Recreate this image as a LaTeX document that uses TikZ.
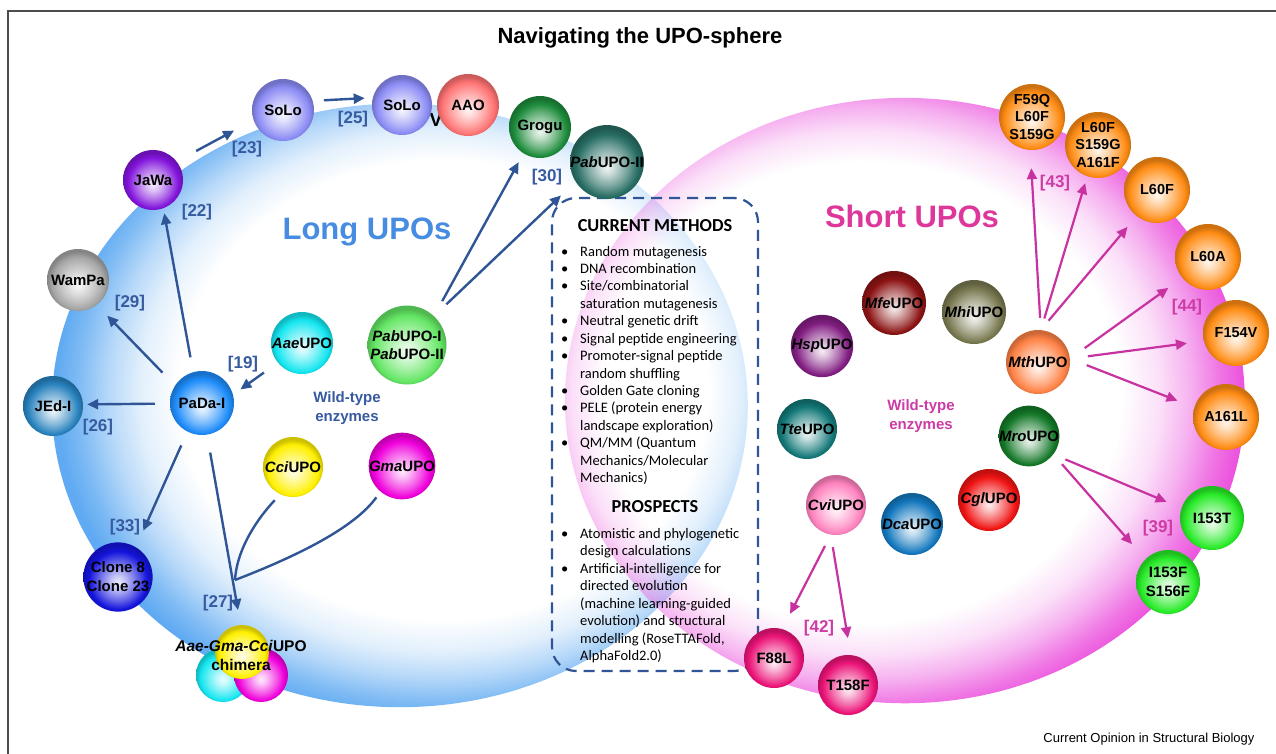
\documentclass[tikz,border=0pt]{standalone}
\usepackage{fontspec}
\setmainfont{Liberation Sans}
\newfontfamily\calfont{Carlito}
\usetikzlibrary{arrows.meta,fadings}

\definecolor{arrB}{RGB}{47,85,151}
\definecolor{arrP}{RGB}{200,50,160}
\definecolor{refB}{RGB}{55,90,160}
\definecolor{refP}{RGB}{205,60,165}
\definecolor{rimBlue}{RGB}{95,170,242}
\definecolor{rimPink}{RGB}{236,85,222}
\definecolor{longB}{RGB}{70,140,225}
\definecolor{shortP}{RGB}{222,55,155}
\definecolor{cLav}{RGB}{140,140,245}
\definecolor{cAAO}{RGB}{255,115,115}
\definecolor{cGrogu}{RGB}{30,140,60}
\definecolor{cPabII}{RGB}{40,110,100}
\definecolor{cJaWa}{RGB}{130,20,220}
\definecolor{cWamPa}{RGB}{165,165,165}
\definecolor{cAae}{RGB}{20,230,240}
\definecolor{cPabI}{RGB}{100,230,100}
\definecolor{cPaDa}{RGB}{30,140,250}
\definecolor{cJEd}{RGB}{40,130,190}
\definecolor{cCci}{RGB}{255,240,0}
\definecolor{cGma}{RGB}{240,0,220}
\definecolor{cClone}{RGB}{20,20,220}
\definecolor{cOrange}{RGB}{255,140,20}
\definecolor{cMth}{RGB}{255,130,70}
\definecolor{cMfe}{RGB}{140,20,20}
\definecolor{cMhi}{RGB}{120,120,80}
\definecolor{cHsp}{RGB}{130,30,130}
\definecolor{cTte}{RGB}{20,120,120}
\definecolor{cCvi}{RGB}{255,130,190}
\definecolor{cDca}{RGB}{20,120,190}
\definecolor{cCgl}{RGB}{240,20,20}
\definecolor{cMro}{RGB}{20,120,40}
\definecolor{cGreen}{RGB}{40,235,40}
\definecolor{cRose}{RGB}{235,20,120}
\colorlet{ballc}{red}

\pgfdeclareradialshading[ballc]{sball}{\pgfpoint{0bp}{-4bp}}{color(0bp)=(ballc!8!white); color(5bp)=(ballc!25!white); color(14bp)=(ballc!65!white); color(21bp)=(ballc); color(25bp)=(ballc!80!black); color(50bp)=(ballc!80!black)}

\pgfdeclareradialshading{rimBsh}{\pgfpoint{5bp}{2bp}}{color(0bp)=(black); color(19bp)=(black); color(21.5bp)=(white!18!black); color(23.5bp)=(white!45!black); color(25.5bp)=(white!80!black); color(27bp)=(white); color(50bp)=(white)}
\pgfdeclarefading{rimBfade}{\pgfuseshading{rimBsh}}
\pgfdeclareradialshading{rimPsh}{\pgfpoint{-5bp}{1bp}}{color(0bp)=(black); color(19bp)=(black); color(21.5bp)=(white!18!black); color(23.5bp)=(white!45!black); color(25.5bp)=(white!80!black); color(27bp)=(white); color(50bp)=(white)}
\pgfdeclarefading{rimPfade}{\pgfuseshading{rimPsh}}

\newcommand\bu{\makebox[19pt][l]{\textbullet}}
\newcommand\ind{\hspace*{19pt}}

\tikzset{
  ball/.style={circle, inner sep=0pt, minimum size=62pt, shading=sball,
    /utils/exec={\colorlet{ballc}{#1}},
    font=\bfseries\fontsize{15}{18}\selectfont, align=center, text=black},
  oball/.style={ball=#1, minimum size=66pt, font=\bfseries\fontsize{14.5}{17.6}\selectfont},
  blA/.style={draw=arrB, line width=2.4pt, -{Triangle[length=11pt,width=10pt]}},
  pkA/.style={draw=arrP, line width=2.2pt, -{Triangle[length=11pt,width=10pt]}},
  blC/.style={draw=arrB, line width=2.4pt},
  refl/.style={font=\bfseries\fontsize{17}{20}\selectfont, text=refB},
  refr/.style={font=\bfseries\fontsize{17}{20}\selectfont, text=refP},
}

\begin{document}
\begin{tikzpicture}[x=1pt,y=-1pt]
\useasboundingbox (0,0) rectangle (1276,754);
\fill[white] (0,0) rectangle (1276,754);

% big spheres
\fill[rimBlue, path fading=rimBfade, fit fading=true] (400,405) ellipse [x radius=348, y radius=302];
\fill[rimPink, path fading=rimPfade, fit fading=true] (905,400) ellipse [x radius=340, y radius=303];

% frame
\draw[line width=1.3pt, black!70] (8,754) -- (8,11) -- (1276,11);

% title and source
\node[font=\bfseries\fontsize{22}{26}\selectfont] (title) at (640,38) {Navigating the UPO-sphere};
\node[anchor=base east, font=\fontsize{13}{15}\selectfont] (src) at (1258,742) {Current Opinion in Structural Biology};

% central box
\node[draw=arrB, line width=2.2pt, dash pattern=on 11pt off 7pt, rounded corners=24pt,
      minimum width=206pt, minimum height=473pt] (box) at (655,434.5) {};
\node[font=\calfont\bfseries\fontsize{18.3}{21}\selectfont] (cm) at (655,226) {CURRENT METHODS};
\node[anchor=north west, inner sep=0pt, font=\calfont\fontsize{14.5}{17.43}\selectfont] (mlist) at (561,243.7)
 {\begin{tabular}{@{}l@{}}
 \bu Random mutagenesis\\
 \bu DNA recombination\\
 \bu Site/combinatorial\\
 \ind saturation mutagenesis\\
 \bu Neutral genetic drift\\
 \bu Signal peptide engineering\\
 \bu Promoter-signal peptide\\
 \ind random shuffling\\
 \bu Golden Gate cloning\\
 \bu PELE (protein energy\\
 \ind landscape exploration)\\
 \bu QM/MM (Quantum\\
 \ind Mechanics/Molecular\\
 \ind Mechanics)
 \end{tabular}};
\node[font=\calfont\bfseries\fontsize{18.3}{21}\selectfont] (pr) at (655,507) {PROSPECTS};
\node[anchor=north west, inner sep=0pt, font=\calfont\fontsize{14.5}{17.47}\selectfont] (plist) at (561,526)
 {\begin{tabular}{@{}l@{}}
 \bu Atomistic and phylogenetic\\
 \ind design calculations\\
 \bu Artificial-intelligence for\\
 \ind directed evolution\\
 \ind (machine learning-guided\\
 \ind evolution) and structural\\
 \ind modelling (RoseTTAFold,\\
 \ind AlphaFold2.0)
 \end{tabular}};

% big labels
\node[font=\bfseries\fontsize{31}{36}\selectfont, text=longB] (longlbl) at (367,232) {Long UPOs};
\node[font=\bfseries\fontsize{31}{36}\selectfont, text=shortP] (shortlbl) at (912,216) {Short UPOs};
\node[font=\bfseries\fontsize{15}{19.5}\selectfont, text=refB, align=center] (wtL) at (347,408) {Wild-type\\enzymes};
\node[font=\bfseries\fontsize{15}{19.5}\selectfont, text=refP, align=center] (wtR) at (921,416) {Wild-type\\enzymes};

% reference labels
\node[refl] (r23) at (247,149) {[23]};
\node[refl] (r25) at (353,119) {[25]};
\node[refl] (r22) at (197,212) {[22]};
\node[refl] (r29) at (130,303) {[29]};
\node[refl] (r19) at (243,364) {[19]};
\node[refl] (r26) at (98,427) {[26]};
\node[refl] (r33) at (125,527) {[33]};
\node[refl] (r27) at (218,603) {[27]};
\node[refl] (r30) at (547,177) {[30]};
\node[refr] (r43) at (1055,183) {[43]};
\node[refr] (r44) at (1187,307) {[44]};
\node[refr] (r39) at (1158,528) {[39]};
\node[refr] (r42) at (819,628) {[42]};

% left balls
\node[font=\bfseries\fontsize{19}{20}\selectfont] (vmark) at (436,120) {V};
\node[ball=cLav] (SoLoA) at (283,110) {SoLo};
\node[ball=cLav, minimum size=60pt] (SoLoB) at (402,105) {SoLo};
\node[ball=cAAO] (AAO) at (468,105) {AAO};
\node[ball=cGrogu] (Grogu) at (540,127) {Grogu};
\node[ball=cPabII, minimum size=64pt] (PabII) at (607,162) {\textit{Pab}UPO-II};
\node[ball=cJaWa, minimum size=60pt] (JaWa) at (153,180) {JaWa};
\node[ball=cWamPa] (WamPa) at (78,280) {WamPa};
\node[ball=cAae] (Aae) at (302,343) {\textit{Aae}UPO};
\node[ball=cPabI] (PabI) at (407,345) {\textit{Pab}UPO-I\\\textit{Pab}UPO-II};
\node[ball=cPaDa, minimum size=64pt] (PaDa) at (202,403) {PaDa-I};
\node[ball=cJEd, minimum size=60pt] (JEd) at (53,406) {JEd-I};
\node[ball=cCci, minimum size=60pt] (Cci) at (293,467) {\textit{Cci}UPO};
\node[ball=cGma] (Gma) at (402,466) {\textit{Gma}UPO};
\node[ball=cClone, font=\bfseries\fontsize{15}{19}\selectfont] (Clone) at (118,577) {Clone 8\\Clone 23};
\node[ball=cAae, minimum size=54pt] (chimC) at (223,675) {};
\node[ball=cGma, minimum size=54pt] (chimM) at (261,675) {};
\node[ball=cCci, minimum size=54pt] (chimY) at (242,652) {};
\node[font=\bfseries\fontsize{15.5}{19}\selectfont, align=center] (chimT) at (241,655) {\textit{Aae-Gma-Cci}UPO\\chimera};

% right balls
\node[oball=cOrange] (F59Q) at (1032,117) {F59Q\\L60F\\S159G};
\node[oball=cOrange] (L60FS) at (1098,145) {L60F\\S159G\\A161F};
\node[oball=cOrange] (L60F) at (1157,190) {L60F};
\node[oball=cOrange] (L60A) at (1208,257) {L60A};
\node[oball=cOrange] (F154V) at (1236,333) {F154V};
\node[oball=cOrange] (A161L) at (1226,417) {A161L};
\node[ball=cGreen, minimum size=64pt] (I153T) at (1212,518) {I153T};
\node[ball=cGreen, minimum size=64pt, font=\bfseries\fontsize{15}{19}\selectfont] (I153F) at (1168,582) {I153F\\S156F};
\node[ball=cMro, minimum size=60pt] (Mro) at (1029,436) {\textit{Mro}UPO};
\node[ball=cCgl] (Cgl) at (989,500) {\textit{Cgl}UPO};
\node[ball=cDca] (Dca) at (912,524) {\textit{Dca}UPO};
\node[ball=cCvi, minimum size=60pt] (Cvi) at (836,505) {\textit{Cvi}UPO};
\node[ball=cTte, minimum size=60pt] (Tte) at (807,429) {\textit{Tte}UPO};
\node[ball=cHsp] (Hsp) at (822,346) {\textit{Hsp}UPO};
\node[ball=cMfe, minimum size=64pt] (Mfe) at (894,303) {\textit{Mfe}UPO};
\node[ball=cMhi, minimum size=64pt] (Mhi) at (974,312) {\textit{Mhi}UPO};
\node[ball=cMth, minimum size=64pt] (Mth) at (1038,362) {\textit{Mth}UPO};
\node[ball=cRose, minimum size=60pt] (F88L) at (774,658) {F88L};
\node[ball=cRose, minimum size=60pt] (T158F) at (848,685) {T158F};

% blue arrows
\draw[blA, shorten <=22pt, shorten >=22pt] (JaWa.38) -- (SoLoA.199);
\draw[blA, shorten <=11pt, shorten >=8pt] (SoLoA.17) -- (SoLoB.166);
\draw[blA, shorten <=15pt, shorten >=5pt] (PaDa.106) -- (JaWa.290);
\draw[blA, shorten <=18pt, shorten >=15pt] (PaDa.147) -- (WamPa.307);
\draw[blA, shorten <=15pt, shorten >=4pt] (PaDa.181) -- (JEd.3);
\draw[blA, shorten <=17pt, shorten >=9pt] (Aae.219) -- (PaDa.15);
\draw[blA, shorten <=15pt, shorten >=18pt] (PaDa.243) -- (Clone.59);
\draw[blA, shorten <=18pt, shorten >=15pt] (PaDa.279) -- (chimY.93);
\coordinate (merge) at (235,580);
\draw[blC, shorten <=8pt] (Cci.245) .. controls (258,518) and (237,548) .. (merge);
\draw[blC, shorten <=7pt] (Gma.230) .. controls (355,527) and (300,555) .. (merge);
\draw[blA, shorten <=17pt, shorten >=10pt] (PabI.47) -- (Grogu.238);
\draw[blA, shorten <=17pt, shorten >=20pt] (PabI.47) -- (PabII.212);

% pink arrows
\draw[pkA, shorten <=12pt, shorten >=18pt] (Mth.85) -- (F59Q.267);
\draw[pkA, shorten <=12pt, shorten >=7pt] (Mth.85) -- (L60FS.251);
\draw[pkA, shorten <=12pt, shorten >=14pt] (Mth.85) -- (L60F.232);
\draw[pkA, shorten <=18pt, shorten >=17pt] (Mth.6) -- (L60A.219);
\draw[pkA, shorten <=18pt, shorten >=17pt] (Mth.6) -- (F154V.194);
\draw[pkA, shorten <=18pt, shorten >=18pt] (Mth.6) -- (A161L.163);
\draw[pkA, shorten <=13pt, shorten >=16pt] (Mro.323) -- (I153T.162);
\draw[pkA, shorten <=13pt, shorten >=20pt] (Mro.323) -- (I153F.135);
\draw[pkA, shorten <=12.6pt, shorten >=17pt] (Cvi.260) -- (F88L.74);
\draw[pkA, shorten <=12.6pt, shorten >=17pt] (Cvi.260) -- (T158F.85);
\end{tikzpicture}
\end{document}
